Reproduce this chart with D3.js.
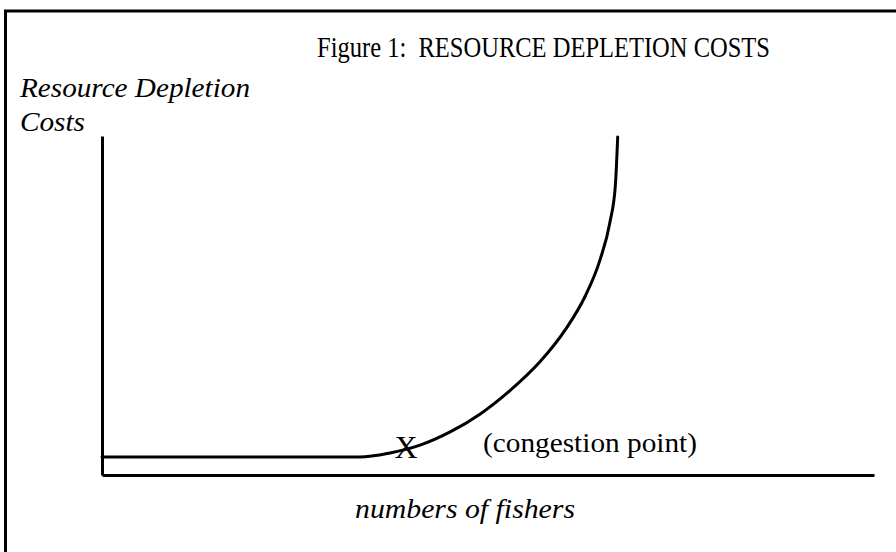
<!DOCTYPE html>
<html>
<head>
<meta charset="utf-8">
<script src="https://cdn.jsdelivr.net/npm/d3@7"></script>
<style>
    body { margin: 0; background: #fff; }
    svg { display: block; }
    text { font-family: "Liberation Serif", "Times New Roman", serif; fill: #000; white-space: pre; }
</style>
</head>
<body>
<div id="chart"></div>
<script>
// curve readings, numbers of fishers (0-100) vs resource depletion cost (0-100)
const fishers = [0, 33.4, 37.3, 41.2, 45.1, 49.0, 52.8, 56.7, 60.0, 62.6, 64.5, 65.8, 66.5, 66.8];
const costs   = [5.3, 5.3, 6.5, 8.8, 12.7, 18.0, 24.8, 33.3, 42.8, 52.8, 63.4, 74.6, 85.5, 99.7];

// congestion point marker
const congestion = {fishers: 39.4, cost: 8.3, label: '(congestion point)'};

const titleText = 'Figure 1:  RESOURCE DEPLETION COSTS';
const yLabelLines = ['Resource Depletion', 'Costs'];
const xLabel = 'numbers of fishers';

const width = 896;
const height = 552;
const margin = {t:136, r:22, b:77, l:102};

const svg = d3.select('#chart')
    .append('svg')
    .attr('width', width)
    .attr('height', height);

// page frame (top and left edges only, as in the scan)
svg.append('path')
    .attr('d', `M5.5,${height} L5.5,11 L${width},11`)
    .attr('fill', 'none')
    .attr('stroke', '#000')
    .attr('stroke-width', 3);

// scales
const scaleX = d3.scaleLinear()
    .domain([0, 100])
    .range([margin.l, width - margin.r]);
const scaleY = d3.scaleLinear()
    .domain([0, 100])
    .range([height - margin.b, margin.t]);

// axes without ticks
const axisX = d3.axisBottom(scaleX).ticks(0).tickSizeOuter(0);
const axisY = d3.axisLeft(scaleY).ticks(0).tickSizeOuter(0);

svg.append('g')
    .attr('class', 'axis axis-x')
    .attr('transform', `translate(0,${scaleY(0)})`)
    .call(axisX);
svg.append('g')
    .attr('class', 'axis axis-y')
    .attr('transform', `translate(${scaleX(0)},0)`)
    .call(axisY);
svg.selectAll('.axis .domain')
    .attr('stroke', '#000')
    .attr('stroke-width', 3);

// cost curve
const line = d3.line()
    .x(d => scaleX(d[0]))
    .y(d => scaleY(d[1]))
    .curve(d3.curveMonotoneX);

svg.append('path')
    .datum(fishers.map((f, i) => [f, costs[i]]))
    .attr('d', line)
    .attr('fill', 'none')
    .attr('stroke', '#000')
    .attr('stroke-width', 3)
    .attr('stroke-linecap', 'round');

// X marker and its label
svg.append('text')
    .attr('x', scaleX(congestion.fishers))
    .attr('y', scaleY(congestion.cost) + 11)
    .attr('text-anchor', 'middle')
    .attr('font-size', 32)
    .text('X');
svg.append('text')
    .attr('x', 483)
    .attr('y', scaleY(congestion.cost) + 5)
    .attr('font-size', 27)
    .attr('textLength', 214)
    .attr('lengthAdjust', 'spacingAndGlyphs')
    .text(congestion.label);

// title
svg.append('text')
    .attr('x', 317)
    .attr('y', 57)
    .attr('font-size', 29)
    .attr('textLength', 453)
    .attr('lengthAdjust', 'spacingAndGlyphs')
    .text(titleText);

// y label
svg.selectAll('.y-label')
    .data(yLabelLines)
    .enter()
    .append('text')
    .attr('class', 'y-label')
    .attr('x', 20)
    .attr('y', (d, i) => 97 + i * 34)
    .attr('font-size', 27)
    .attr('font-style', 'italic')
    .attr('textLength', (d, i) => i === 0 ? 230 : 65)
    .attr('lengthAdjust', 'spacingAndGlyphs')
    .text(d => d);

// x label
svg.append('text')
    .attr('x', 355)
    .attr('y', 518)
    .attr('font-size', 28)
    .attr('font-style', 'italic')
    .attr('textLength', 220)
    .attr('lengthAdjust', 'spacingAndGlyphs')
    .text(xLabel);
</script>
</body>
</html>
